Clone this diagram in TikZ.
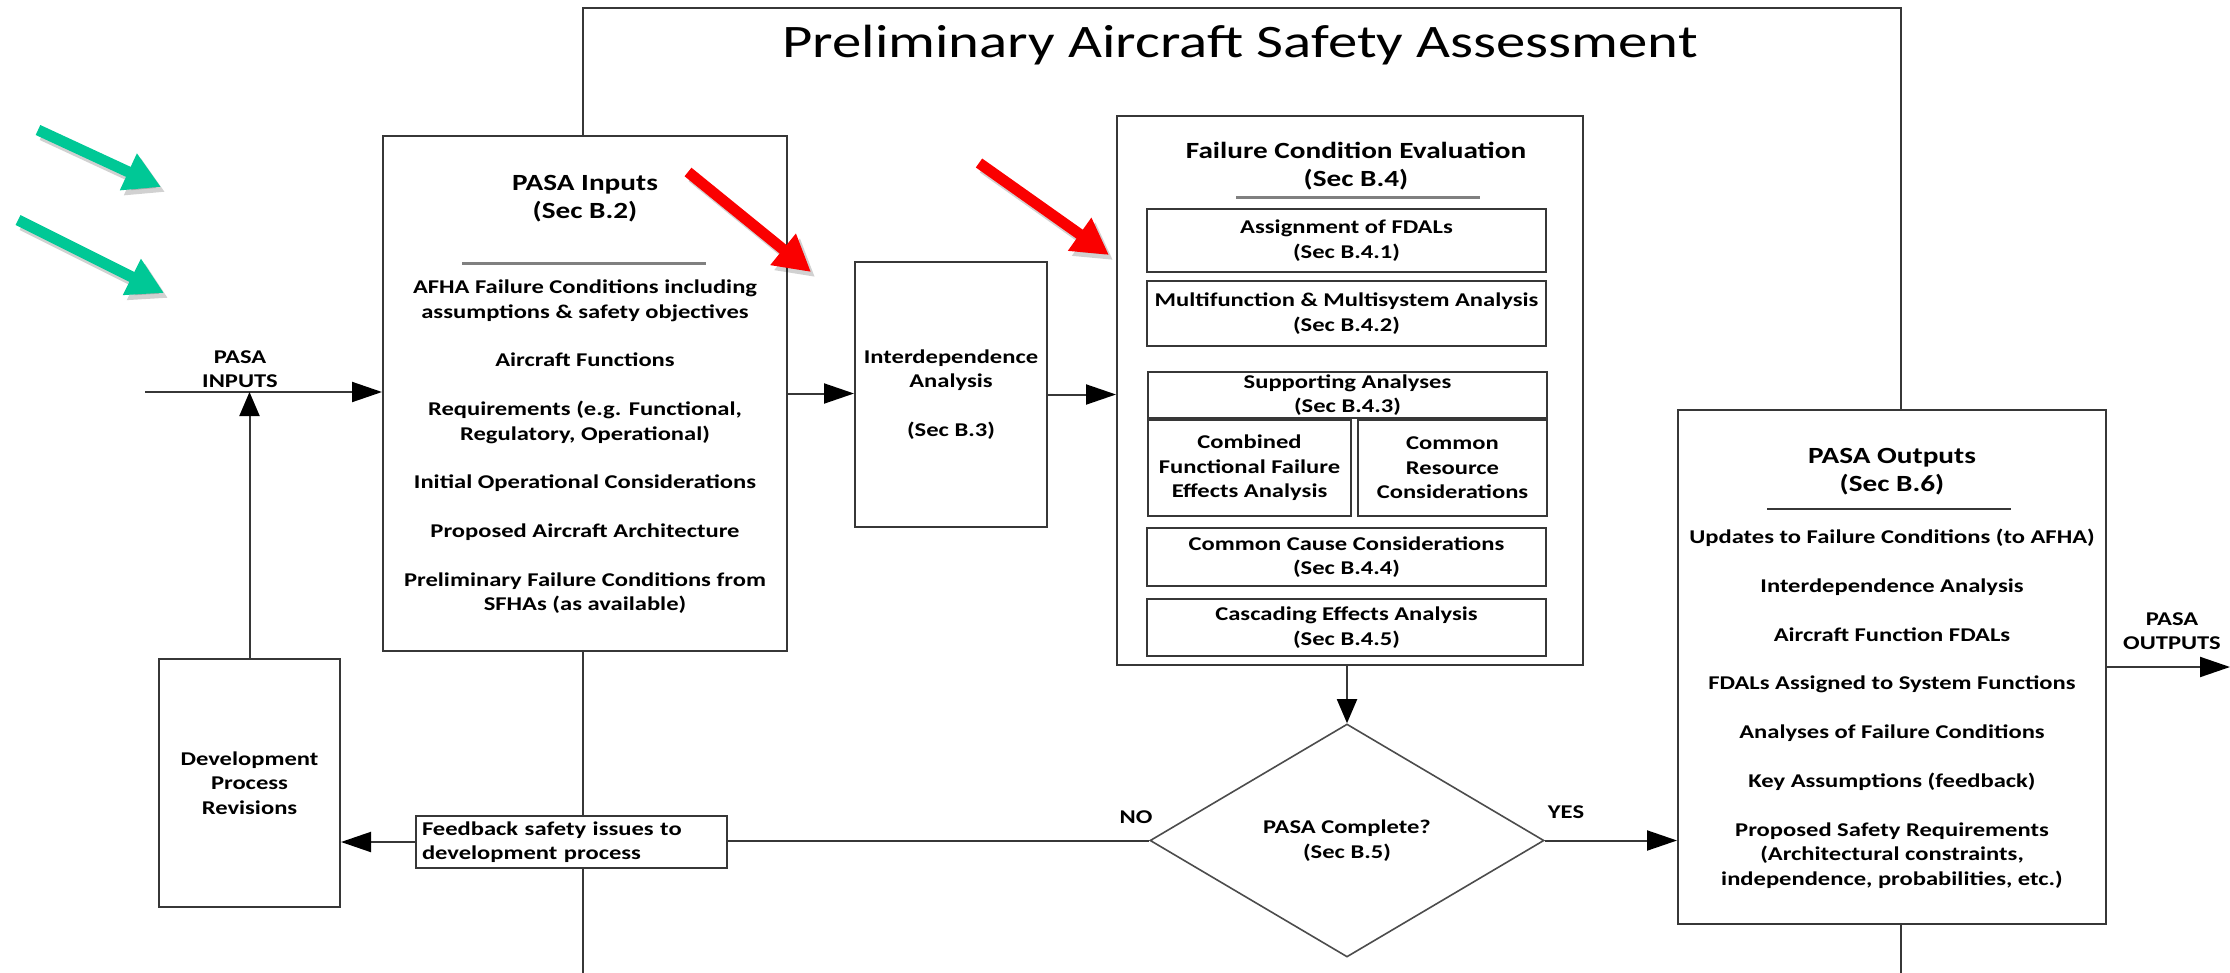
\documentclass[tikz,border=0pt]{standalone}
\usepackage{fontspec}
\setmainfont{Carlito}[FakeStretch=1.26]
\usetikzlibrary{arrows.meta,shapes.geometric}

\definecolor{linegray}{RGB}{55,55,55}
\definecolor{sepgray}{RGB}{128,128,128}
\definecolor{hotred}{RGB}{250,0,0}
\definecolor{mint}{RGB}{0,200,150}

\newcommand\bodyfont{\bfseries\fontsize{9.75pt}{12.2pt}\selectfont}
\newcommand\headfont{\bfseries\fontsize{11.6pt}{14pt}\selectfont}
\newcommand\titlefont{\fontsize{23.3pt}{28pt}\selectfont}

\tikzset{
  box/.style={draw=linegray, line width=1pt, fill=white, inner sep=0pt,
    align=center, font=\bodyfont},
  txt/.style={inner sep=0pt, align=center, font=\bodyfont},
  head/.style={inner sep=0pt, align=center, font=\headfont},
  conn/.style={draw=linegray, line width=1pt},
  harrow/.style={-{Triangle[length=15pt,width=10pt,color=black]}},
  varrow/.style={-{Triangle[length=12pt,width=10pt,color=black]}},
  sepline/.style={draw=sepgray, line width=1.5pt},
  pointer/.style={line width=5.5pt, -{Triangle[length=18pt,width=19pt]}},
  pshadow/.style={pointer, draw=black, opacity=0.18},
}

\begin{document}
\begin{tikzpicture}[x=0.5pt,y=-0.5pt]
\useasboundingbox (0,0) rectangle (2230,973);

% outer assessment frame, open at the bottom
\draw[draw=linegray, line width=1pt] (583,973) -- (583,8) -- (1901,8) -- (1901,973);
\node[anchor=base, inner sep=0pt, font=\titlefont] (title) at (1240,58)
  {Preliminary Aircraft Safety Assessment};

% PASA inputs
\node[box, minimum width=202pt, minimum height=257.5pt] (pin) at (585,393.5) {};
\node[head] (pinhead) at (585,199) {PASA Inputs\\(Sec B.2)};
\draw[sepline] (462,263) -- (706,263);
\node[txt] (pinlist) at (585,447) {AFHA Failure Conditions including\\assumptions \& safety objectives\\[12.2pt]Aircraft Functions\\[12.2pt]Requirements (e.g. Functional,\\Regulatory, Operational)\\[12.2pt]Initial Operational Considerations\\[12.2pt]Proposed Aircraft Architecture\\[12.2pt]Preliminary Failure Conditions from\\SFHAs (as available)};

% interdependence analysis
\node[box, minimum width=96pt, minimum height=132.5pt] (interdep) at (951,394.5)
  {Interdependence\\Analysis\\[12.2pt](Sec B.3)};

% failure condition evaluation
\node[box, minimum width=233pt, minimum height=274.5pt] (fce) at (1350,390.5) {};
\node[head] (fcehead) at (1356,166) {Failure Condition Evaluation\\(Sec B.4)};
\draw[sepline] (1236,198) -- (1480,198);
\node[box, minimum width=199.5pt, minimum height=31.5pt] (assign) at (1346.5,240.5)
  {Assignment of FDALs\\(Sec B.4.1)};
\node[box, minimum width=199.5pt, minimum height=32.5pt] (multi) at (1346.5,313.5)
  {Multifunction \& Multisystem Analysis\\(Sec B.4.2)};
\node[box, minimum width=199.5pt, minimum height=23pt] (support) at (1347.5,395)
  {Supporting Analyses\\(Sec B.4.3)};
\node[box, minimum width=101.5pt, minimum height=48pt] (comb) at (1249.5,468)
  {Combined\\Functional Failure\\Effects Analysis};
\node[box, minimum width=94.5pt, minimum height=48pt] (cres) at (1452.5,468)
  {Common\\Resource\\Considerations};
\node[box, minimum width=199.5pt, minimum height=29pt] (ccause) at (1346.5,557)
  {Common Cause Considerations\\(Sec B.4.4)};
\node[box, minimum width=199.5pt, minimum height=28.5pt] (casc) at (1346.5,627.5)
  {Cascading Effects Analysis\\(Sec B.4.5)};

% decision
\node[box, shape=diamond, draw=black!70, line width=0.8pt,
  minimum width=197pt, minimum height=116.5pt] (dia) at (1347,840.5)
  {PASA Complete?\\(Sec B.5)};
\node[txt] (nolab) at (1136,817) {NO};
\node[txt] (yeslab) at (1566,812) {YES};

% feedback loop
\node[box, minimum width=155.5pt, minimum height=26pt, text width=149.5pt,
  align=left] (fb) at (571.5,842) {Feedback safety issues to\\development process};
\node[box, minimum width=90.5pt, minimum height=124pt] (dev) at (249.5,783)
  {Development\\Process\\Revisions};

% PASA outputs
\node[box, minimum width=214pt, minimum height=257pt] (out) at (1892,667) {};
\node[head] (outhead) at (1892,472) {PASA Outputs\\(Sec B.6)};
\draw[draw=linegray, line width=1pt] (1767,509) -- (2011,509);
\node[txt] (outlist) at (1892,708.5) {Updates to Failure Conditions (to AFHA)\\[12.2pt]Interdependence Analysis\\[12.2pt]Aircraft Function FDALs\\[12.2pt]FDALs Assigned to System Functions\\[12.2pt]Analyses of Failure Conditions\\[12.2pt]Key Assumptions (feedback)\\[12.2pt]Proposed Safety Requirements\\(Architectural constraints,\\independence, probabilities, etc.)};

% external labels
\node[txt] (inlab) at (240,369) {PASA\\INPUTS};
\node[txt] (outlab) at (2172,631) {PASA\\OUTPUTS};

% connectors
\coordinate (inl) at (145,392);
\coordinate (rim) at (2230,0);
\draw[conn,harrow] (inl) -- (inl -| pin.west);
\draw[conn,varrow] (dev.north) -- (dev.north |- inl);
\draw[conn,harrow] (pin.east) -- (pin.east -| interdep.west);
\draw[conn,harrow] (interdep.east) -- (interdep.east -| fce.west);
\draw[conn,varrow] (dia.north |- fce.south) -- (dia.north);
\draw[conn] (dia.west) -- (dia.west -| fb.east);
\draw[conn,harrow] (fb.west) -- (fb.west -| dev.east);
\draw[conn,harrow] (dia.east) -- (dia.east -| out.west);
\draw[conn,harrow] (out.east) -- (out.east -| rim);

% highlight pointers
\coordinate (g1a) at (38,130);  \coordinate (g1b) at (161,187);
\coordinate (g2a) at (18,220);  \coordinate (g2b) at (164,293);
\coordinate (r1a) at (688,172); \coordinate (r1b) at (811,272);
\coordinate (r2a) at (979,163); \coordinate (r2b) at (1109,255);
\foreach \a/\b in {g1a/g1b,g2a/g2b,r1a/r1b,r2a/r2b}
  \draw[pshadow] ([shift={(4,5)}]\a) -- ([shift={(4,5)}]\b);
\draw[pointer, draw=mint] (g1a) -- (g1b);
\draw[pointer, draw=mint] (g2a) -- (g2b);
\draw[pointer, draw=hotred] (r1a) -- (r1b);
\draw[pointer, draw=hotred] (r2a) -- (r2b);
\end{tikzpicture}
\end{document}
